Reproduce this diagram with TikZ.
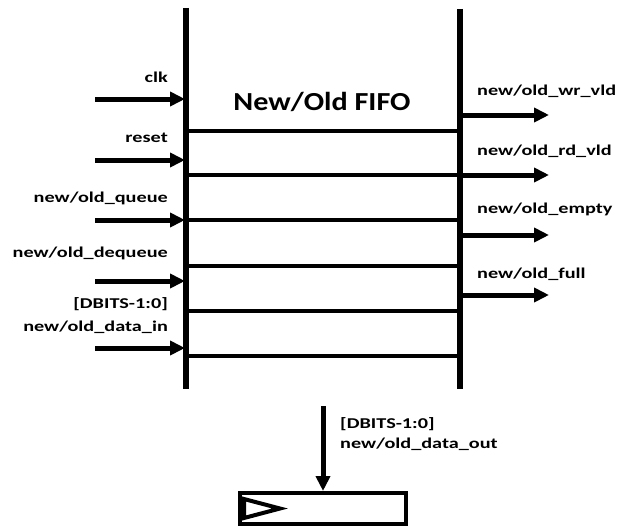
\documentclass[tikz,border=0pt]{standalone}
\usepackage{fontspec}
\setmainfont{Carlito}[FakeStretch=1.35]
\newfontfamily\titulofont{Carlito}[FakeStretch=1.16]
\usetikzlibrary{arrows.meta}
\tikzset{
  >={Triangle[length=15pt,width=14pt]},
  barra/.style={line width=5.5pt},
  linea/.style={line width=4pt},
  senal/.style={->, line width=5pt},
  etiq/.style={font=\fontsize{15}{15}\selectfont\bfseries, inner sep=0pt},
}

\begin{document}
\begin{tikzpicture}[x=1pt,y=-1pt]
  \useasboundingbox (0,0) rectangle (623,527);
  % barras del FIFO
  \coordinate (izqA) at (186,8);
  \coordinate (izqB) at (186,389);
  \coordinate (derA) at (460,9);
  \coordinate (derB) at (460,389);
  \draw[barra] (izqA) -- (izqB);
  \draw[barra] (derA) -- (derB);
  \foreach \y in {131,175,220,266,311,356}
    \draw[linea] (izqA |- 0,\y) -- (derA |- 0,\y);
  \node[anchor=base, inner sep=0pt, font=\titulofont\fontsize{26}{26}\selectfont\bfseries] (titulo) at (322,110) {New/Old FIFO};
  % entradas
  \foreach \n/\y in {clk/99, rst/160, enq/220, deq/281, din/348}{
    \coordinate (\n a) at (95,\y);
    \coordinate (\n b) at (185,\y);
    \draw[senal] (\n a) -- (\n b);
  }
  \node[etiq, anchor=base east] (lclk) at (168,82) {clk};
  \node[etiq, anchor=base east] (lrst) at (168,142) {reset};
  \node[etiq, anchor=base east] (lenq) at (168,202) {new/old\_queue};
  \node[etiq, anchor=base east] (ldeq) at (168,257) {new/old\_dequeue};
  \node[etiq, anchor=base east] (lbits) at (168,308) {[DBITS-1:0]};
  \node[etiq, anchor=base east] (ldin) at (168,331) {new/old\_data\_in};
  % salidas
  \foreach \n/\y in {wr/115, rd/175, emp/235, full/295}{
    \coordinate (\n a) at (461,\y);
    \coordinate (\n b) at (549,\y);
    \draw[senal] (\n a) -- (\n b);
  }
  \node[etiq, anchor=base west] (lwr) at (477,95) {new/old\_wr\_vld};
  \node[etiq, anchor=base west] (lrd) at (477,155) {new/old\_rd\_vld};
  \node[etiq, anchor=base west] (lemp) at (477,213) {new/old\_empty};
  \node[etiq, anchor=base west] (lfull) at (477,278) {new/old\_full};
  % registro de salida
  \node[draw, line width=4pt, minimum width=166pt, minimum height=31pt, inner sep=0pt] (reg) at (323,508.5) {};
  \draw[line width=4pt, line join=miter, fill=white] (244,499) -- (280,508.5) -- (244,518) -- cycle;
  \coordinate (dout) at (323,406);
  \draw[senal] (dout) -- (reg.north);
  \node[etiq, anchor=base west] (lbits2) at (340,428) {[DBITS-1:0]};
  \node[etiq, anchor=base west] (ldout) at (340,448) {new/old\_data\_out};
\end{tikzpicture}
\end{document}
